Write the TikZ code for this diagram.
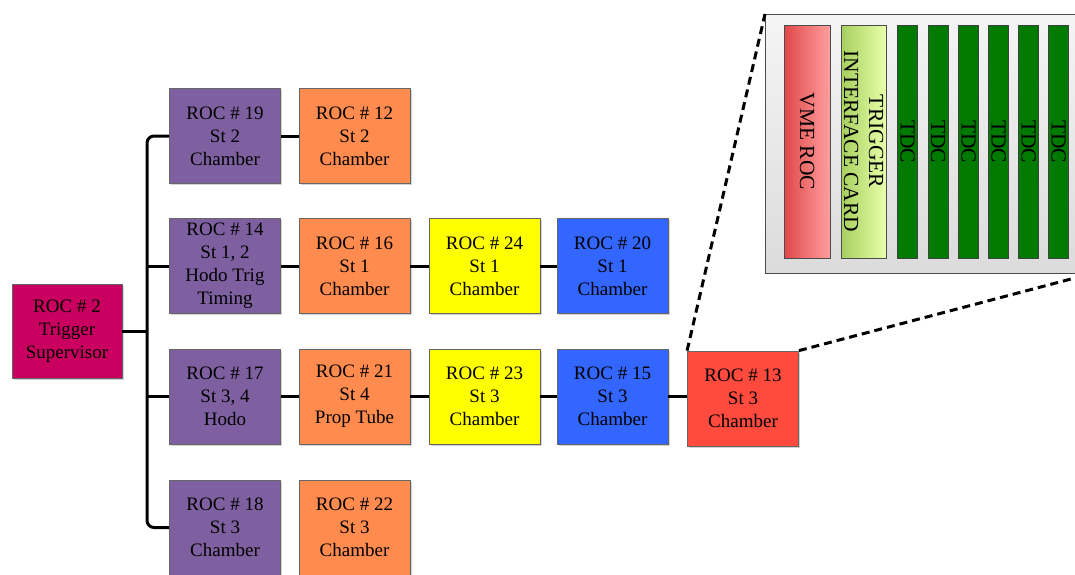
\documentclass[tikz,border=0pt]{standalone}
\usepackage{fontspec}
\setmainfont{Liberation Serif}
\usetikzlibrary{shadows}
\definecolor{cmag}{HTML}{C9005F}
\definecolor{cpur}{HTML}{7E60A1}
\definecolor{cora}{HTML}{FF8B4F}
\definecolor{cyel}{HTML}{FFFF00}
\definecolor{cblu}{HTML}{3366FF}
\definecolor{cred}{HTML}{FF4B3E}
\definecolor{vmeA}{HTML}{E04848}
\definecolor{vmeB}{HTML}{FF9E9E}
\definecolor{trgA}{HTML}{A6CF5E}
\definecolor{trgB}{HTML}{E8FFAA}
\definecolor{tdcg}{HTML}{007A00}
\begin{document}
\begin{tikzpicture}[x=1pt,y=-1pt,
  roc/.style={draw=black!60, line width=0.8pt, minimum width=111pt, minimum height=95pt,
    inner sep=0pt, align=center, font=\fontsize{19}{23}\selectfont,
    drop shadow={shadow xshift=1.5pt, shadow yshift=-1.5pt, opacity=0.35}},
  conn/.style={line width=3pt, black},
  card/.style={draw=black!70, line width=0.8pt, rotate=-90, minimum width=233pt,
    inner sep=0pt, align=center, font=\fontsize{21.5}{25}\selectfont},
  tdc/.style={card, minimum height=20pt, fill=tdcg, draw=black!75},
  zoomline/.style={line width=3pt, dash pattern=on 8pt off 5pt}
]
\clip (0,0) rectangle (1075,574);
\useasboundingbox (0,0) rectangle (1075,574);
\fill[white] (0,0) rectangle (1075,574);

% main nodes
\node[roc, fill=cmag, minimum width=110pt, minimum height=94pt] (n2) at (67,331) {ROC \# 2\\Trigger\\Supervisor};

\node[roc, fill=cpur] (n19) at (225,136) {ROC \# 19\\St 2\\Chamber};
\node[roc, fill=cora] (n12) at (354.5,136) {ROC \# 12\\St 2\\Chamber};

\node[roc, fill=cpur] (n14) at (225,266) {ROC \# 14\\St 1, 2\\Hodo Trig\\Timing};
\node[roc, fill=cora] (n16) at (354.5,266) {ROC \# 16\\St 1\\Chamber};
\node[roc, fill=cyel] (n24) at (484.5,266) {ROC \# 24\\St 1\\Chamber};
\node[roc, fill=cblu] (n20) at (612.5,266) {ROC \# 20\\St 1\\Chamber};

\node[roc, fill=cpur] (n17) at (225,396.5) {ROC \# 17\\St 3, 4\\Hodo};
\node[roc, fill=cora] (n21) at (354.5,396.5) {ROC \# 21\\St 4\\Prop Tube};
\node[roc, fill=cyel] (n23) at (484.5,396.5) {ROC \# 23\\St 3\\Chamber};
\node[roc, fill=cblu] (n15) at (612.5,396.5) {ROC \# 15\\St 3\\Chamber};
\node[roc, fill=cred] (n13) at (743,398.5) {ROC \# 13\\St 3\\Chamber};

\node[roc, fill=cpur] (n18) at (225,527.5) {ROC \# 18\\St 3\\Chamber};
\node[roc, fill=cora] (n22) at (354.5,527.5) {ROC \# 22\\St 3\\Chamber};

% trunk
\coordinate (trunk) at (147,331);
\draw[conn, rounded corners=7pt] (n19.west) -| (trunk) |- (n18.west);
\draw[conn] (n2.east) -- (n2.east -| trunk);
\draw[conn] (n14.west -| trunk) -- (n14.west);
\draw[conn] (n17.west -| trunk) -- (n17.west);

% chains
\draw[conn] (n19) -- (n12);
\draw[conn] (n14) -- (n16);
\draw[conn] (n16) -- (n24);
\draw[conn] (n24) -- (n20);
\draw[conn] (n17) -- (n21);
\draw[conn] (n21) -- (n23);
\draw[conn] (n23) -- (n15);
\draw[conn] (n15.east) -- (n15.east -| n13.west);

% inset
\node[draw=black!70, line width=0.8pt, top color=gray!8, bottom color=gray!28,
  minimum width=325pt, minimum height=259pt, inner sep=0pt, anchor=north west] (inset) at (765,14) {};
\node[card, minimum height=46pt, left color=vmeA, right color=vmeB] (vme) at (807,141.5) {VME ROC};
\node[card, minimum height=45pt, left color=trgA, right color=trgB] (trig) at (863.5,141.5) {TRIGGER\\INTERFACE CARD};
\node[tdc] (t1) at (907.5,141.5) {TDC};
\node[tdc] (t2) at (938,141.5) {TDC};
\node[tdc] (t3) at (968.5,141.5) {TDC};
\node[tdc] (t4) at (998.5,141.5) {TDC};
\node[tdc] (t5) at (1028.5,141.5) {TDC};
\node[tdc] (t6) at (1058.5,141.5) {TDC};

% zoom lines
\draw[zoomline] (n13.north west) -- (inset.north west);
\draw[zoomline] (n13.north east) -- (inset.south east);
\end{tikzpicture}
\end{document}
